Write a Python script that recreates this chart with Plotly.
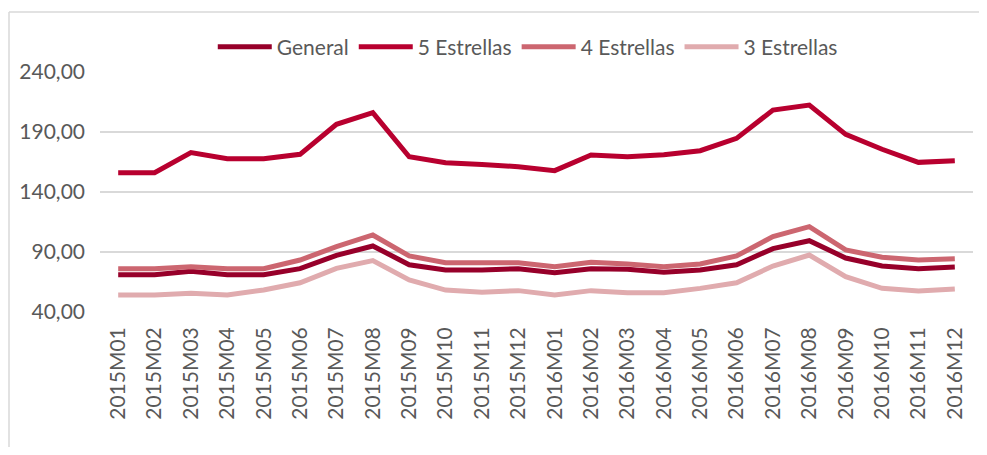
import plotly.graph_objects as go

months = ["2015M01", "2015M02", "2015M03", "2015M04", "2015M05", "2015M06",
          "2015M07", "2015M08", "2015M09", "2015M10", "2015M11", "2015M12",
          "2016M01", "2016M02", "2016M03", "2016M04", "2016M05", "2016M06",
          "2016M07", "2016M08", "2016M09", "2016M10", "2016M11", "2016M12"]

general = [71.1, 71.1, 73.9, 71.1, 71.1, 76.1, 87.2, 95.0, 79.4, 75.0, 75.0, 76.1,
           72.8, 76.1, 75.6, 73.1, 75.0, 79.4, 92.8, 99.4, 85.0, 78.3, 76.1, 77.5]
cinco = [156.1, 156.1, 172.8, 167.8, 167.8, 171.4, 196.4, 206.1, 169.4, 164.4, 163.0, 161.0,
         157.8, 170.8, 169.4, 171.0, 174.4, 184.7, 208.3, 212.5, 188.0, 175.6, 164.7, 166.1]
cuatro = [76.1, 76.0, 77.8, 76.1, 76.0, 83.3, 94.4, 104.2, 86.7, 81.1, 81.0, 81.1,
          77.8, 81.4, 80.0, 77.8, 80.0, 86.7, 102.8, 111.1, 91.7, 85.6, 83.3, 84.4]
tres = [54.2, 54.2, 55.6, 54.2, 58.3, 64.4, 76.4, 82.8, 66.7, 58.3, 56.4, 57.8,
        54.2, 57.8, 56.1, 56.1, 59.7, 64.4, 78.3, 87.5, 69.4, 59.7, 57.5, 59.2]

series_names = ["General", "5 Estrellas", "4 Estrellas", "3 Estrellas"]
series_values = [general, cinco, cuatro, tres]
colors = ["#97002A", "#B8002F", "#CC6670", "#E0ABAE"]

FONT = "Lato"
GREY = "#595959"

fig = go.Figure()
for name, vals, col in zip(series_names, series_values, colors):
    fig.add_trace(go.Scatter(x=months, y=vals, name=name, mode="lines",
                             line=dict(color=col, width=5)))

border = dict(color="#D9D9D9", width=1.5)
bx = (1 - 92) / 873
by = 1 + 60 / 240

# page body has an 8px default margin on every side; keep the figure inside the window
fig.update_layout(
    width=971, height=439,
    margin=dict(l=92, r=6, t=64, b=135),
    paper_bgcolor="white", plot_bgcolor="white",
    separators=",.",
    font=dict(family=FONT, size=21, color=GREY),
    showlegend=True,
    legend=dict(orientation="h", x=0.49, xanchor="center", y=1.104, yanchor="middle",
                font=dict(family=FONT, size=21, color=GREY), bgcolor="rgba(0,0,0,0)",
                itemwidth=54, tracegroupgap=0),
    xaxis=dict(type="category", range=[-0.5, 23.5], tickangle=-90,
               showgrid=False, zeroline=False, showline=False, ticks="",
               ticklabelstandoff=10,
               tickfont=dict(family=FONT, size=21, color=GREY)),
    yaxis=dict(range=[40, 240], dtick=50, tick0=40, tickformat=".2f",
               showgrid=True, gridcolor="#D9D9D9", gridwidth=1.5,
               zeroline=False, showline=False, ticks="",
               ticklabelstandoff=14,
               tickfont=dict(family=FONT, size=21, color=GREY)),
    shapes=[
        dict(type="line", xref="paper", yref="paper", x0=bx, x1=1.02, y0=by, y1=by,
             line=border, layer="below"),
        dict(type="line", xref="paper", yref="paper", x0=bx, x1=bx, y0=by, y1=-0.6,
             line=border, layer="below"),
    ],
)

fig.write_html("out.html")
